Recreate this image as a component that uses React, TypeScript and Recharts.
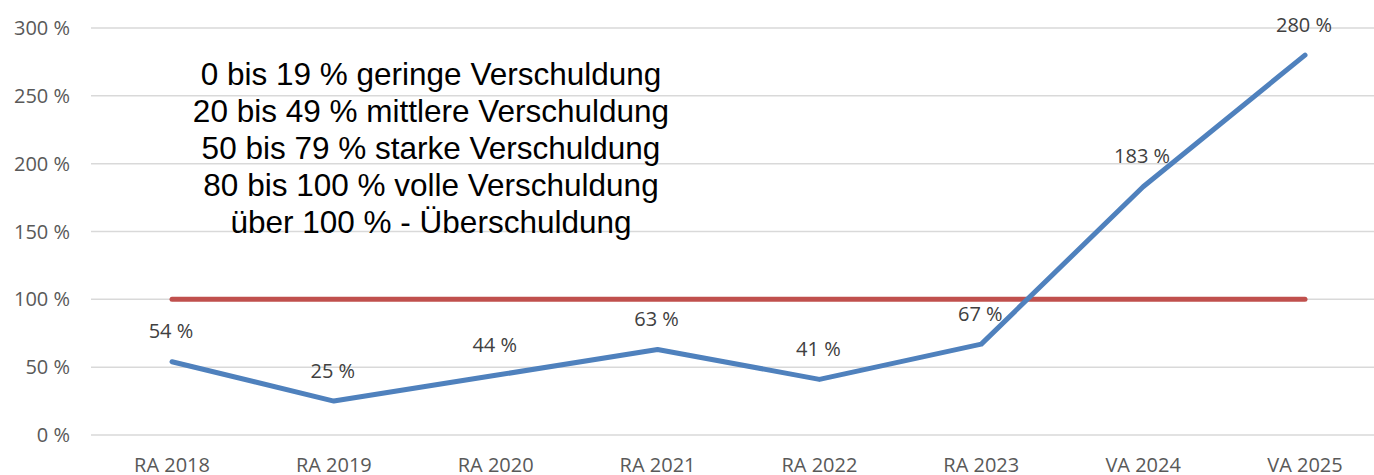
import { LineChart, Line, XAxis, YAxis, CartesianGrid } from 'recharts';

const categories = ['RA 2018', 'RA 2019', 'RA 2020', 'RA 2021', 'RA 2022', 'RA 2023', 'VA 2024', 'VA 2025'];
const verschuldung = [54, 25, 44, 63, 41, 67, 183, 280];
const grenze = [100, 100, 100, 100, 100, 100, 100, 100];
const yTicks = [0, 50, 100, 150, 200, 250, 300];
const legendLines = [
  '0 bis 19 % geringe Verschuldung',
  '20 bis 49 % mittlere Verschuldung',
  '50 bis 79 % starke Verschuldung',
  '80 bis 100 % volle Verschuldung',
  'über 100 % - Überschuldung',
];

const data = categories.map((name, i) => ({ name, wert: verschuldung[i], grenze: grenze[i] }));

const tickFont = { fill: '#595959', fontSize: 20, fontFamily: '"Open Sans", sans-serif' };

const ValueLabel = ({ x, y, value }: any) => (
  <text
    x={x - 1}
    y={y - 31}
    textAnchor="middle"
    dominantBaseline="central"
    fill="#404040"
    fontSize={20}
    fontFamily='"Open Sans", sans-serif'
  >
    {`${value} %`}
  </text>
);

export default function App() {
  return (
    <div style={{ position: 'absolute', left: 0, top: 0, width: 1374, height: 475, overflow: 'hidden', background: '#fff' }}>
      <LineChart width={1374} height={475} data={data} margin={{ top: 28, right: 0, bottom: 0, left: 0 }}>
        <CartesianGrid vertical={false} stroke="#d9d9d9" strokeWidth={1.5} />
        <XAxis
          dataKey="name"
          axisLine={false}
          tickLine={false}
          tickMargin={17}
          height={40}
          tick={tickFont}
          interval={0}
          padding={{ left: 81, right: 69 }}
        />
        <YAxis
          domain={[0, 300]}
          ticks={yTicks}
          width={91}
          axisLine={false}
          tickLine={false}
          tickMargin={15}
          tick={tickFont}
          tickFormatter={(v: number) => `${v} %`}
        />
        <Line
          dataKey="grenze"
          stroke="#C0504D"
          strokeWidth={5}
          strokeLinecap="round"
          dot={false}
          isAnimationActive={false}
        />
        <Line
          dataKey="wert"
          stroke="#4F81BD"
          strokeWidth={5}
          strokeLinecap="round"
          strokeLinejoin="round"
          dot={false}
          label={<ValueLabel />}
          isAnimationActive={false}
        />
      </LineChart>
      <div
        style={{
          position: 'absolute',
          left: 131,
          top: 56,
          width: 600,
          textAlign: 'center',
          fontFamily: '"Liberation Sans", Arial, sans-serif',
          fontSize: 31.5,
          lineHeight: '37px',
          color: '#000',
        }}
      >
        {legendLines.map((l) => (
          <div key={l}>{l}</div>
        ))}
      </div>
    </div>
  );
}
